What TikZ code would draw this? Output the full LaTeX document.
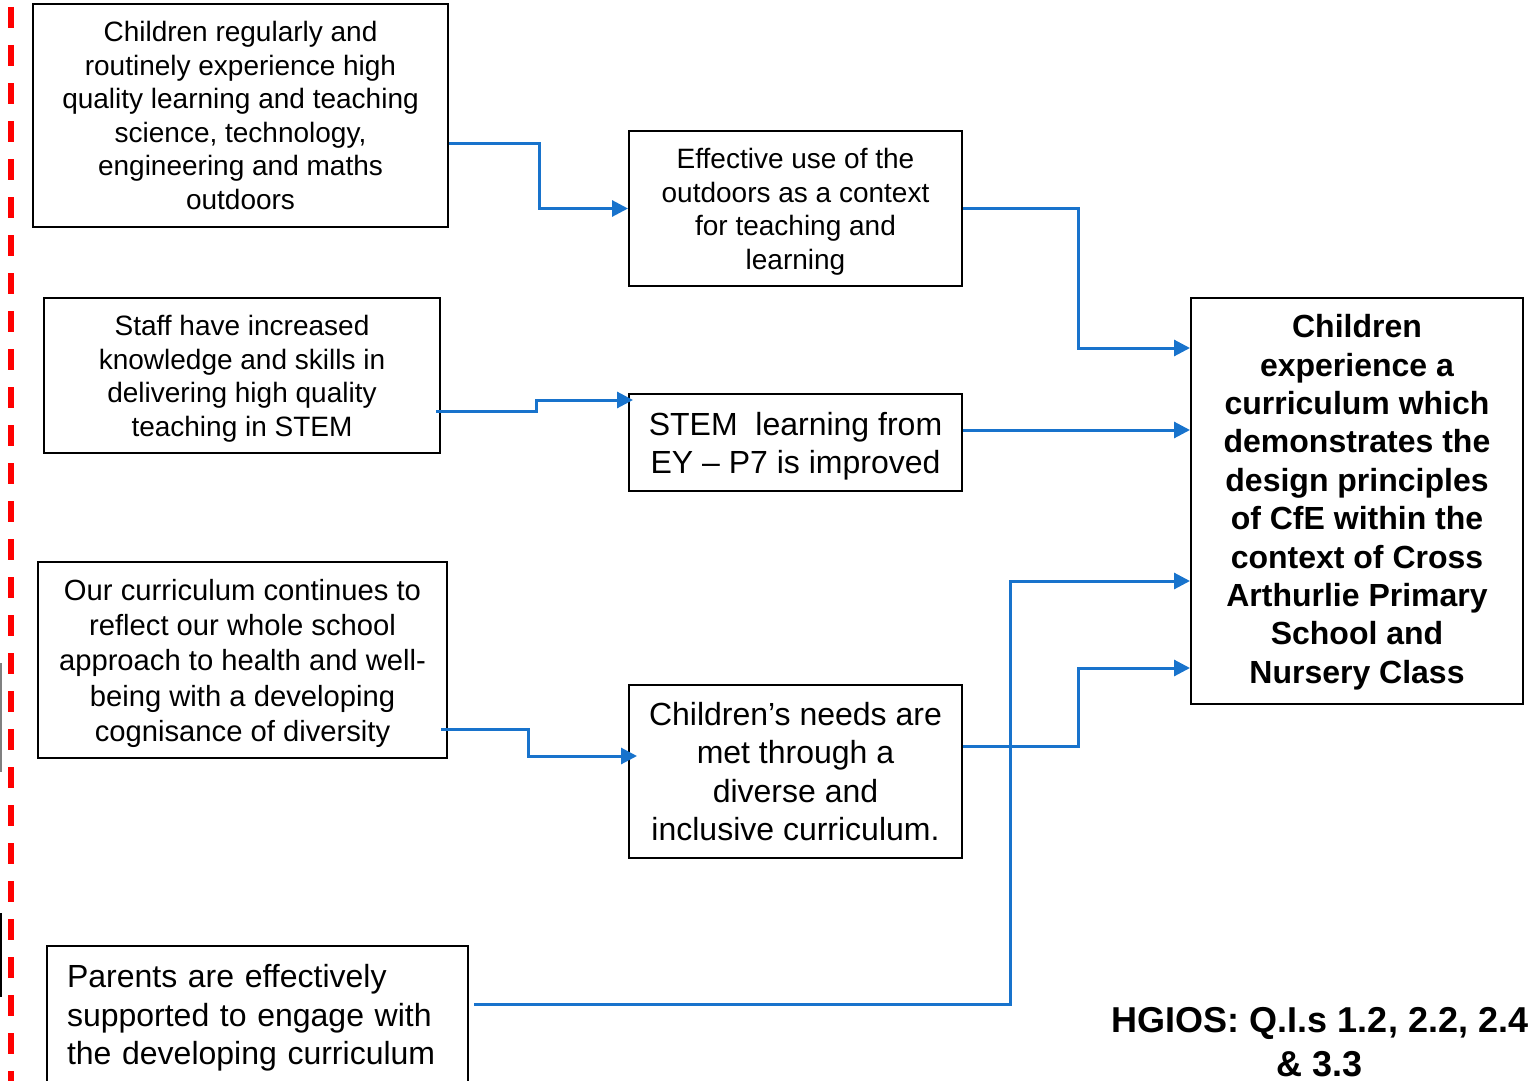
\documentclass[tikz,border=0pt]{standalone}
\usepackage{fontspec}
\setmainfont{Liberation Sans}
\usetikzlibrary{arrows.meta}
\definecolor{linkblue}{RGB}{24,115,204}
\definecolor{edgered}{RGB}{255,0,0}
\newcommand\lineup{\rule{0pt}{0.95em}}

\begin{document}
\begin{tikzpicture}[x=1pt, y=-1pt,
  box/.style={draw, line width=2pt, inner sep=0pt, align=center},
  link/.style={draw=linkblue, line width=3pt, -{Triangle[length=16pt,width=16pt]}},
  smalltxt/.style={font=\fontsize{28}{33.6}\selectfont},
  bigtxt/.style={font=\fontsize{32}{38.5}\selectfont}]
%% 1 unit = 1 px of the 1528 x 1081 page, y grows downwards
%%   left column  : x 33..468
%%   middle column: x 629..962
%%   outcome box  : x 1191..1523
\useasboundingbox (0,0) rectangle (1528,1081);
\clip (0,0) rectangle (1528,1081);

%% ---- Margin marks ----
\draw[edgered, line width=6pt, dash pattern=on 21pt off 17pt] (11,7) -- (11,1081);
\draw[gray, line width=1.5pt] (1,663) -- (1,772);
\draw[black, line width=1.5pt] (1,913) -- (1,997);

%% ---- Left column ----
\node[box, smalltxt, minimum width=415pt, minimum height=223pt] (stemout) at (240.5,115.5)
  {Children regularly and\\routinely experience high\\quality learning and teaching\\science, technology,\\engineering and maths\\outdoors};

\node[box, smalltxt, minimum width=396pt, minimum height=155pt] (staff) at (242,375.5)
  {\lineup Staff have increased\\knowledge and skills in\\delivering high quality\\teaching in STEM};

\node[box, font=\fontsize{29.2}{35.25}\selectfont, minimum width=409pt, minimum height=196pt] (wellbeing) at (242.5,660)
  {\lineup Our curriculum continues to\\reflect our whole school\\approach to health and well-\\being with a developing\\cognisance of diversity};

\node[box, bigtxt, align=left, inner xsep=20pt, text width=381pt, minimum height=137pt] (parents) at (257.5,1014.5)
  {\lineup Parents are effectively\\supported to engage with\\the developing curriculum};

%% ---- Middle column ----
\node[box, smalltxt, minimum width=333pt, minimum height=155pt] (outdoors) at (795.5,208.5)
  {\lineup Effective use of the\\outdoors as a context\\for teaching and\\learning};

\node[box, bigtxt, minimum width=333pt, minimum height=97pt] (stem) at (795.5,442.5)
  {\lineup STEM\ \ learning from\\EY -- P7 is improved};

\node[box, bigtxt, minimum width=333pt, minimum height=173pt] (needs) at (795.5,771.5)
  {Children’s needs are\\met through a\\diverse and\\inclusive curriculum.};

%% ---- Outcome ----
\node[box, font=\fontsize{32}{38.4}\selectfont\bfseries, minimum width=332pt, minimum height=406pt] (aim) at (1357,501)
  {\rule{0pt}{0.8em}Children\\experience a\\curriculum which\\demonstrates the\\design principles\\of CfE within the\\context of Cross\\Arthurlie Primary\\School and\\Nursery Class};

\node[align=center, font=\fontsize{36}{44}\selectfont\bfseries] (hgios) at (1320,1042)
  {HGIOS: Q.I.s 1.2, 2.2, 2.4\\\& 3.3};

%% ---- Connectors: left -> middle ----
\draw[link] ([yshift=-27.5pt]stemout.east) -- ++(90,0) |- (outdoors.west);
\draw[link] ([xshift=-5pt,yshift=-35.5pt]staff.east) -- ++(100,0) |- ([xshift=5pt,yshift=-7pt]stem.north west);
\draw[link] ([xshift=-7pt,yshift=-69pt]wellbeing.east) -- ++(87,0) |- ([xshift=9pt,yshift=15.5pt]needs.west);

%% ---- Connectors: -> outcome ----
\coordinate (stemout2) at ([yshift=12.5pt]stem.east);
\draw[link] (outdoors.east) -- ++(115,0) |- ([yshift=153pt]aim.west);
\draw[link] (stemout2) -- (stemout2 -| aim.west);
\draw[link] ([xshift=5pt,yshift=10.5pt]parents.east) -- ++(536,0) |- ([yshift=-80pt]aim.west);
\draw[link] ([yshift=25.5pt]needs.east) -- ++(115,0) |- ([yshift=-167pt]aim.west);
\end{tikzpicture}
\end{document}
